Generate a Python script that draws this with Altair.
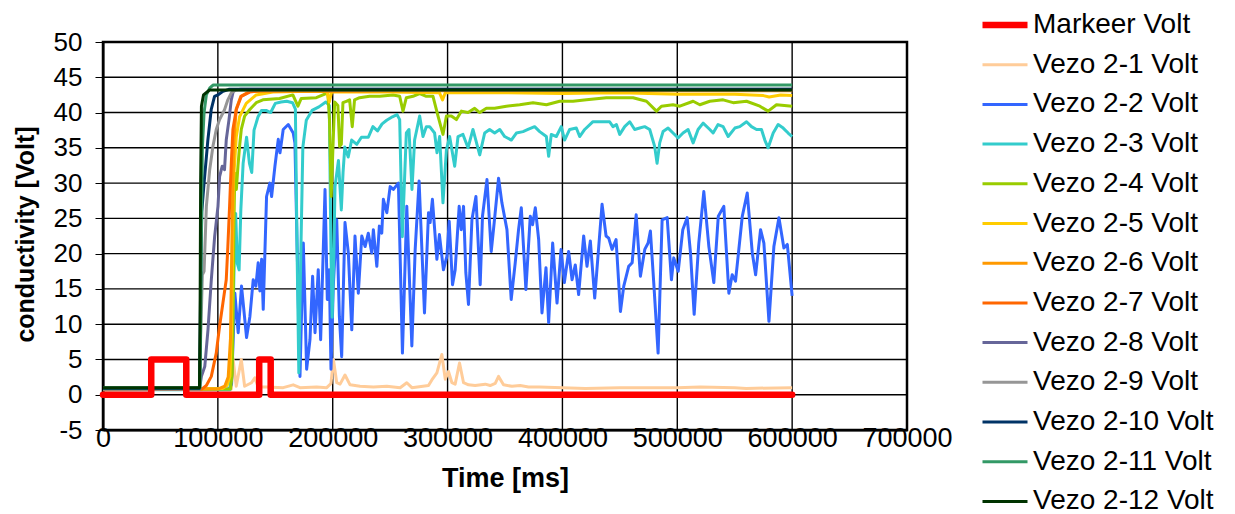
import altair as alt
import pandas as pd

series_names = ["Markeer Volt", "Vezo 2-1 Volt", "Vezo 2-2 Volt", "Vezo 2-3 Volt",
                "Vezo 2-4 Volt", "Vezo 2-5 Volt", "Vezo 2-6 Volt", "Vezo 2-7 Volt",
                "Vezo 2-8 Volt", "Vezo 2-9 Volt", "Vezo 2-10 Volt", "Vezo 2-11 Volt",
                "Vezo 2-12 Volt"]
series_colors = ["#FF0000", "#FFCC99", "#3366FF", "#33CCCC", "#99CC00", "#FFCC00",
                 "#FF9900", "#FF6600", "#666699", "#969696", "#003366", "#339966",
                 "#003300"]
series_widths = [6.5, 3, 3, 3, 3, 3, 3, 3, 3, 3, 3, 3, 3]

x_ticks = [0, 100000, 200000, 300000, 400000, 500000, 600000, 700000]
y_ticks = [-5, 0, 5, 10, 15, 20, 25, 30, 35, 40, 45, 50]

markeer_t = [0, 42000, 42000, 72500, 72500, 136000, 136000, 146000, 146000, 600000]
markeer_v = [0, 0, 5, 5, 0, 0, 5, 5, 0, 0]

v1_t = [0, 111700, 113100, 116000, 120400, 123300, 129300, 132200, 135100, 142400, 156900,
        165600, 171500, 186000, 194800, 198500, 200600, 203500, 206400, 210700, 215100,
        223800, 235400, 247100, 258700, 264500, 268900, 283400, 286300, 290700, 295000,
        298000, 300800, 303800, 306600, 310400, 313900, 318200, 324000, 332800, 337100,
        341500, 344400, 348700, 356000, 363200, 370500, 380000, 400000, 420000, 450000,
        470000, 500000, 520000, 550000, 560000, 600000]
v1_v = [0.8, 0.8, 5.2, 1.2, 5.0, 1.2, 1.7, 2.4, 1.1, 1.1, 1.0, 1.4, 1.0, 1.1, 1.0, 1.6,
        5.0, 1.7, 1.5, 2.8, 1.4, 1.2, 1.1, 1.2, 1.0, 1.7, 1.0, 1.3, 2.1, 3.1, 5.7, 2.2,
        3.3, 1.7, 1.5, 4.5, 1.7, 1.4, 1.3, 1.5, 1.3, 1.6, 2.6, 1.4, 1.2, 1.3, 1.1, 1.1,
        1.0, 0.9, 1.0, 1.0, 1.0, 1.1, 1.0, 0.9, 1.0]

v2_t = [0, 110000, 111900, 114800, 117700, 120600, 125000, 127900, 130800, 133100, 135100,
        136600, 138100, 139500, 142400, 145300, 146800, 149700, 152600, 154100, 156900,
        161300, 165600, 167100, 170000, 171500, 174400, 177300, 180200, 182500, 184600,
        187400, 189500, 193300, 195300, 197000, 198500, 200500, 203500, 205800, 207800,
        210700, 213600, 216600, 219400, 222300, 225300, 228200, 231000, 234000, 235400,
        238400, 240600, 242700, 244100, 247100, 250000, 252800, 257200, 260700, 264500,
        268900, 271800, 275200, 279900, 283400, 284800, 286800, 290700, 292900, 296400,
        299400, 301400, 304300, 306600, 310100, 311900, 313900, 315900, 318200, 321200,
        324700, 328400, 330400, 334300, 338000, 340600, 344400, 347300, 351700, 355400,
        358900, 361800, 364200, 368200, 372000, 374000, 376400, 379300, 382200, 385700,
        388000, 391500, 395300, 398800, 401700, 405400, 408400, 411200, 414100, 418500,
        421400, 424300, 428100, 434500, 438000, 440300, 443200, 446700, 450500, 453400,
        457700, 460700, 464200, 467900, 471700, 474600, 476600, 479500, 483300, 486800,
        491200, 494900, 496900, 500800, 504800, 508600, 511500, 514700, 518700, 523100,
        527500, 531800, 535700, 540500, 544900, 547800, 550700, 556600, 560900, 565300,
        568200, 572500, 575400, 579800, 584100, 588500, 592800, 595800, 600000]
v2_v = [0.8, 0.8, 1.5, 14.4, 8.8, 15.4, 8.1, 11.1, 16.3, 15.4, 18.7, 14.7, 19.2, 12.1,
        28.1, 30.0, 28.1, 32.4, 36.2, 34.3, 37.6, 38.3, 37.1, 35.7, 13.5, 2.6, 21.5, 3.6,
        7.8, 16.8, 8.8, 17.7, 7.8, 29.1, 13.5, 17.7, 3.6, 15.4, 24.8, 11.1, 5.4, 24.4,
        20.1, 9.2, 22.5, 14.4, 22.5, 21.0, 22.9, 20.1, 23.4, 18.2, 23.9, 22.9, 27.7, 25.8,
        29.5, 29.1, 30.0, 5.9, 26.7, 6.9, 20.6, 30.3, 11.6, 25.8, 24.4, 27.7, 19.2, 22.7,
        17.7, 19.6, 24.6, 15.6, 17.7, 26.7, 23.4, 26.7, 17.3, 12.8, 24.8, 28.1, 15.6, 25.3,
        30.5, 20.3, 24.4, 30.7, 27.2, 23.4, 13.5, 18.7, 23.4, 26.5, 14.9, 25.3, 24.1, 26.5,
        22.0, 11.6, 18.0, 10.2, 21.5, 13.0, 20.6, 15.9, 20.3, 16.3, 18.4, 14.2, 22.5, 18.2,
        21.8, 13.7, 27.0, 22.5, 22.2, 20.6, 22.0, 11.8, 15.4, 18.2, 18.7, 25.5, 16.8, 20.6,
        21.5, 23.2, 15.9, 5.9, 24.8, 25.1, 16.3, 19.4, 17.5, 23.4, 25.1, 20.1, 11.4, 21.5,
        28.8, 21.0, 15.9, 25.3, 26.7, 14.4, 17.0, 16.1, 25.3, 28.6, 20.1, 17.0, 23.4, 21.5,
        10.4, 21.0, 25.1, 20.8, 21.3, 14.0]

v3_t = [0, 110500, 112500, 114000, 115500, 117000, 118500, 120000, 122000, 125000, 127500,
        129500, 131500, 135000, 138000, 142000, 146000, 150000, 155000, 160000, 165000,
        167500, 169000, 170500, 172000, 174000, 177000, 182000, 188000, 194000, 197000,
        198500, 199500, 201000, 202000, 205000, 207500, 209000, 210500, 213500, 216500,
        221000, 225000, 231000, 235000, 239000, 243000, 247000, 252000, 256000, 258300,
        260600, 264100, 266400, 269000, 271300, 275700, 278600, 281500, 284400, 288700,
        290800, 293100, 296000, 299000, 301800, 306200, 309100, 313400, 317800, 322100,
        328000, 332300, 336600, 341000, 345400, 349700, 355500, 359900, 365700, 370000,
        375800, 380200, 386000, 388000, 390300, 394700, 399000, 401900, 406300, 412100,
        415000, 419400, 426600, 433900, 441100, 444000, 447000, 449900, 454200, 458600,
        462900, 467300, 471600, 476000, 480300, 482400, 484700, 487600, 492000, 496300,
        500700, 505000, 509400, 513800, 518100, 522500, 528300, 531200, 535500, 539900,
        544300, 550100, 554400, 560300, 564600, 569000, 573300, 576200, 579100, 583500,
        587800, 592200, 596500, 600000]
v3_v = [0.7, 0.7, 6.0, 17.0, 25.7, 18.6, 17.7, 26.2, 32.8, 36.5, 32.8, 31.5, 37.5, 39.4,
        40.3, 40.3, 40.0, 41.3, 41.5, 41.6, 41.4, 40.5, 20.0, 3.1, 18.0, 35.1, 38.9, 40.3,
        40.8, 41.5, 41.0, 20.0, 11.0, 20.0, 29.5, 33.2, 26.2, 31.5, 35.1, 33.7, 36.1, 35.5,
        36.5, 36.5, 38.0, 37.4, 38.4, 38.9, 39.4, 39.7, 39.0, 22.4, 37.1, 37.6, 29.1, 36.1,
        39.5, 36.6, 38.0, 38.0, 37.1, 34.3, 36.6, 27.2, 34.7, 36.6, 32.4, 36.6, 36.9, 35.0,
        37.6, 34.0, 37.1, 37.6, 37.1, 37.6, 36.6, 36.1, 37.1, 37.3, 37.6, 38.0, 37.3, 36.6,
        33.8, 36.9, 36.6, 38.0, 36.1, 37.6, 37.8, 36.6, 37.6, 38.7, 38.7, 38.7, 38.0, 38.3,
        36.9, 38.0, 38.7, 37.6, 37.8, 38.0, 37.6, 35.2, 32.8, 35.7, 37.3, 37.8, 37.1, 36.4,
        37.1, 37.6, 35.7, 37.6, 38.5, 37.6, 37.1, 38.3, 38.0, 36.6, 37.8, 38.0, 38.7, 38.0,
        37.6, 37.6, 36.1, 35.0, 37.1, 38.3, 37.8, 37.1, 36.6]

v4_t = [0, 111000, 112500, 113500, 114000, 114700, 116100, 117500, 118900, 120400, 123300,
        127600, 133400, 139200, 153700, 165300, 169700, 172600, 185700, 195700, 197200,
        198700, 200200, 201700, 204500, 206000, 207500, 208900, 211800, 214700, 217000,
        219000, 223400, 232100, 240900, 252500, 258300, 261200, 264100, 269900, 275700,
        281500, 287300, 291700, 296000, 299000, 303300, 307700, 312000, 317800, 323600,
        328000, 333800, 341000, 351200, 362800, 374400, 386100, 397600, 409200, 420900,
        438300, 461500, 473200, 481900, 486200, 496300, 502200, 513800, 519600, 528300,
        539900, 548600, 560300, 571900, 579100, 586400, 600000]
v4_v = [0.8, 0.8, 3.0, 15.0, 24.0, 31.4, 29.1, 32.4, 35.2, 37.6, 39.5, 40.4, 41.4, 41.8,
        42.0, 42.5, 40.9, 42.0, 42.1, 42.8, 39.0, 28.1, 35.0, 41.5, 41.0, 35.2, 35.5, 41.4,
        41.6, 41.8, 38.0, 41.8, 42.1, 42.3, 42.3, 42.5, 42.3, 40.2, 42.1, 42.3, 42.7, 42.3,
        42.3, 39.5, 36.9, 39.5, 39.5, 39.0, 40.2, 40.0, 40.6, 40.0, 40.6, 40.6, 40.9, 41.1,
        41.4, 41.1, 41.6, 41.6, 41.8, 42.1, 42.1, 41.6, 40.2, 40.9, 41.1, 40.9, 41.6, 41.1,
        41.6, 41.8, 41.4, 41.6, 40.9, 40.2, 41.1, 40.9]

v5_t = [0, 104000, 108000, 110500, 112000, 113500, 116000, 118900, 124700, 133400, 147900,
        170000, 195000, 197000, 199000, 250000, 293000, 295600, 298000, 350000, 400000,
        450000, 500000, 550000, 575000, 580000, 590000, 600000]
v5_v = [0.8, 0.9, 1.3, 2.6, 10.0, 30.0, 36.5, 39.4, 41.3, 42.5, 42.9, 43.0, 43.0, 41.5,
        42.9, 42.9, 42.8, 41.8, 42.8, 42.8, 42.7, 42.8, 42.6, 42.6, 42.4, 42.2, 42.5, 42.4]

v6_t = [0, 100000, 106000, 109000, 111000, 112500, 114000, 116000, 120000, 128000, 200000,
        300000, 400000, 500000, 600000]
v6_v = [0.7, 0.8, 1.2, 2.5, 8.0, 25.0, 36.0, 40.5, 42.3, 43.0, 43.0, 43.1, 43.1, 43.1, 43.1]

v7_t = [0, 86000, 90000, 94300, 98600, 101500, 104400, 107300, 108700, 110200, 111700,
        113100, 116000, 120400, 127600, 140000, 300000, 600000]
v7_v = [0.8, 0.8, 1.3, 2.6, 5.9, 9.7, 13.0, 16.3, 21.0, 26.7, 32.8, 37.6, 40.4, 42.3, 42.9,
        43.2, 43.2, 43.2]

v8_t = [0, 84000, 85700, 88600, 91400, 94300, 97200, 100100, 101500, 103800, 105800, 107300,
        109700, 111700, 113700, 120000, 600000]
v8_v = [0.8, 0.8, 2.6, 4.0, 9.2, 16.3, 22.4, 26.7, 30.9, 32.4, 31.9, 36.1, 39.0, 41.8, 43.2,
        43.3, 43.3]

v9_t = [0, 84000, 85000, 85700, 86500, 88000, 90000, 92900, 95700, 98600, 101500, 105800,
        108700, 111700, 116000, 600000]
v9_v = [0.8, 0.8, 8.0, 12.0, 17.0, 17.5, 26.7, 31.9, 35.2, 37.6, 39.0, 40.4, 41.8, 42.8,
        43.2, 43.2]

v10_t = [0, 84000, 85000, 86000, 88000, 91300, 94200, 97100, 100000, 104400, 110000, 600000]
v10_v = [0.9, 0.9, 15.0, 26.0, 30.0, 36.1, 40.4, 42.3, 42.5, 43.0, 43.3, 43.3]

v11_t = [0, 84500, 85500, 86500, 88000, 90000, 93000, 96000, 600000]
v11_v = [1.0, 1.0, 20.0, 35.0, 40.0, 42.5, 43.5, 43.9, 43.9]

v12_t = [0, 84000, 84500, 85000, 85700, 87500, 92800, 600000]
v12_v = [1.0, 1.0, 10.0, 30.0, 40.9, 42.5, 43.2, 43.2]

all_t = [markeer_t, v1_t, v2_t, v3_t, v4_t, v5_t, v6_t, v7_t, v8_t, v9_t, v10_t, v11_t, v12_t]
all_v = [markeer_v, v1_v, v2_v, v3_v, v4_v, v5_v, v6_v, v7_v, v8_v, v9_v, v10_v, v11_v, v12_v]

rows = []
for s, (ts, vs) in enumerate(zip(all_t, all_v)):
    for i, (t, v) in enumerate(zip(ts, vs)):
        rows.append({"series": series_names[s], "s": s, "i": i, "t": t, "v": v})
df = pd.DataFrame(rows)
df_xgrid = pd.DataFrame({"t": x_ticks})
df_ygrid = pd.DataFrame({"v": y_ticks})

FONT = "Liberation Sans"

x_scale = alt.Scale(domain=[0, 700000], nice=False)
y_scale = alt.Scale(domain=[-5, 50], nice=False)
x_axis = alt.Axis(values=x_ticks, labelExpr="'' + datum.value", title="Time [ms]",
                  ticks=False, tickSize=0, labelPadding=-5, labelFlush=False,
                  labelOverlap=False, labelFontSize=27, titleFontSize=27,
                  titleX=402, titleY=48, titleBaseline="middle", titleAlign="center",
                  grid=False, domainColor="#000000", domainWidth=2)
y_axis = alt.Axis(values=y_ticks, labelExpr="'' + datum.value",
                  title="conductivity [Volt]", tickSize=8, labelPadding=13,
                  labelFlush=False, labelOverlap=False, labelFontSize=26,
                  titleFontSize=25, titleX=-78, titleY=192, titleAngle=-90,
                  titleBaseline="middle", titleAlign="center", grid=False,
                  domainColor="#000000", domainWidth=2, tickColor="#000000", tickWidth=1)
x_enc = alt.X("t:Q", scale=x_scale, axis=x_axis)
y_enc = alt.Y("v:Q", scale=y_scale, axis=y_axis)

legend = alt.Legend(title=None, orient="none", legendX=876, legendY=-43,
                    symbolType="stroke", symbolSize=2025,
                    labelFontSize=28, labelFont=FONT, labelColor="black", labelLimit=400,
                    labelOffset=2, rowPadding=1.7, padding=0)
c_enc = alt.Color("series:N", scale=alt.Scale(domain=series_names, range=series_colors),
                  legend=legend)
w_enc = alt.StrokeWidth("series:N", scale=alt.Scale(type="ordinal", domain=series_names,
                                                     range=series_widths),
                        legend=legend)

grid_y = alt.Chart(df_ygrid).mark_rule(stroke="black", strokeWidth=1.4,
                                       strokeOpacity=1, opacity=1).encode(y=y_enc)
grid_x = alt.Chart(df_xgrid).mark_rule(stroke="black", strokeWidth=1.4,
                                       strokeOpacity=1, opacity=1).encode(x=x_enc)

vezo = alt.Chart(df).transform_filter(alt.datum.s > 0).mark_line(
    strokeJoin="round").encode(
    x=x_enc, y=y_enc, color=c_enc, strokeWidth=w_enc, order=alt.Order("i:Q"))
mark = alt.Chart(df).transform_filter(alt.datum.s == 0).mark_line(
    strokeJoin="round", strokeCap="round").encode(
    x=x_enc, y=y_enc, color=c_enc, strokeWidth=w_enc, order=alt.Order("i:Q"))

chart = alt.layer(grid_y, grid_x, vezo, mark).properties(
    width=804, height=388,
    background="white",
    autosize=alt.AutoSizeParams(type="none"),
    padding={"left": 95, "top": 34, "right": 320, "bottom": 84},
).configure_view(stroke="black", strokeWidth=2.5, strokeOpacity=1).configure_axis(
    labelFont=FONT, titleFont=FONT, labelColor="black", titleColor="black",
    titleFontWeight="bold"
)

chart.save("out.html", embed_options={"renderer": "svg", "actions": False})
